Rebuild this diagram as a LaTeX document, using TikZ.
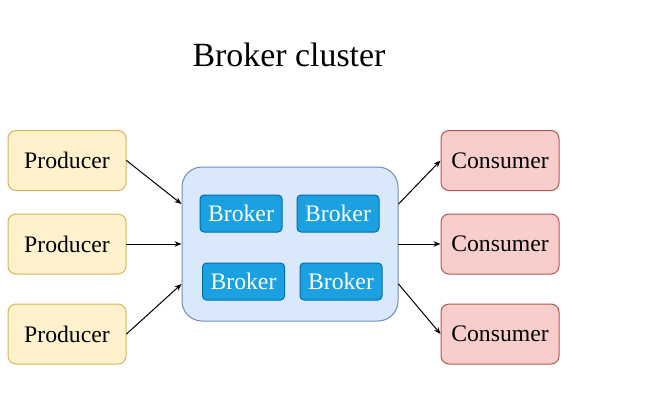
\documentclass[tikz,border=0pt]{standalone}
\usepackage{fontspec}
\setmainfont{Liberation Serif}
\usepackage{tikz}
\usetikzlibrary{arrows.meta}
\definecolor{prodfill}{HTML}{FFF2CC}
\definecolor{prodline}{HTML}{D6B656}
\definecolor{consfill}{HTML}{F8CECC}
\definecolor{consline}{HTML}{B85450}
\definecolor{clusfill}{HTML}{DAE8FC}
\definecolor{clusline}{HTML}{6C8EBF}
\definecolor{brokfill}{HTML}{1BA1E2}
\definecolor{brokline}{HTML}{006EAF}
\tikzset{
  every picture/.style={line join=round, line cap=round, >={Stealth[length=7pt,width=5.5pt]}},
  box/.style={draw, line width=1pt, rounded corners=8pt, minimum width=118pt, minimum height=60pt, inner sep=0pt,
    font=\fontsize{23.7}{28}\selectfont},
  producer/.style={box, fill=prodfill, draw=prodline},
  consumer/.style={box, fill=consfill, draw=consline},
  cluster/.style={draw=clusline, fill=clusfill, line width=1pt, rounded corners=20pt, minimum width=216pt, minimum height=154pt},
  broker/.style={draw=brokline, fill=brokfill, text=white, line width=1pt, rounded corners=4pt, minimum width=82pt,
    minimum height=37pt, inner sep=0pt, font=\fontsize{23.7}{28}\selectfont},
  link/.style={->, line width=1pt},
}

\begin{document}
\begin{tikzpicture}[x=1pt, y=-1pt]
\useasboundingbox (0,0) rectangle (658,410);
\node (title) at (289,55) {\fontsize{33.9}{40}\selectfont Broker cluster};
\node[producer] (p1) at (67,160.5) {Producer};
\node[producer] (p2) at (67,244) {Producer};
\node[producer] (p3) at (67,334) {Producer};
\node[consumer] (c1) at (500,160.5) {Consumer};
\node[consumer] (c2) at (500,244) {Consumer};
\node[consumer] (c3) at (500,334) {Consumer};
\node[cluster] (cl) at (290,244) {};
\node[broker] (b1) at (241,213.5) {Broker};
\node[broker] (b2) at (338,213.5) {Broker};
\node[broker] (b3) at (243.5,281.5) {Broker};
\node[broker] (b4) at (341,281.5) {Broker};
% producers into the cluster
\draw[link] (p1.east) -- ([yshift=40pt]cl.west);
\draw[link] (p2.east) -- (cl.west);
\draw[link] (p3.east) -- ([yshift=-40pt]cl.west);
% cluster out to consumers
\draw[link] ([yshift=40pt]cl.east) -- (c1.west);
\draw[link] (cl.east) -- (c2.west);
\draw[link] ([yshift=-40pt]cl.east) -- (c3.west);
\end{tikzpicture}
\end{document}
